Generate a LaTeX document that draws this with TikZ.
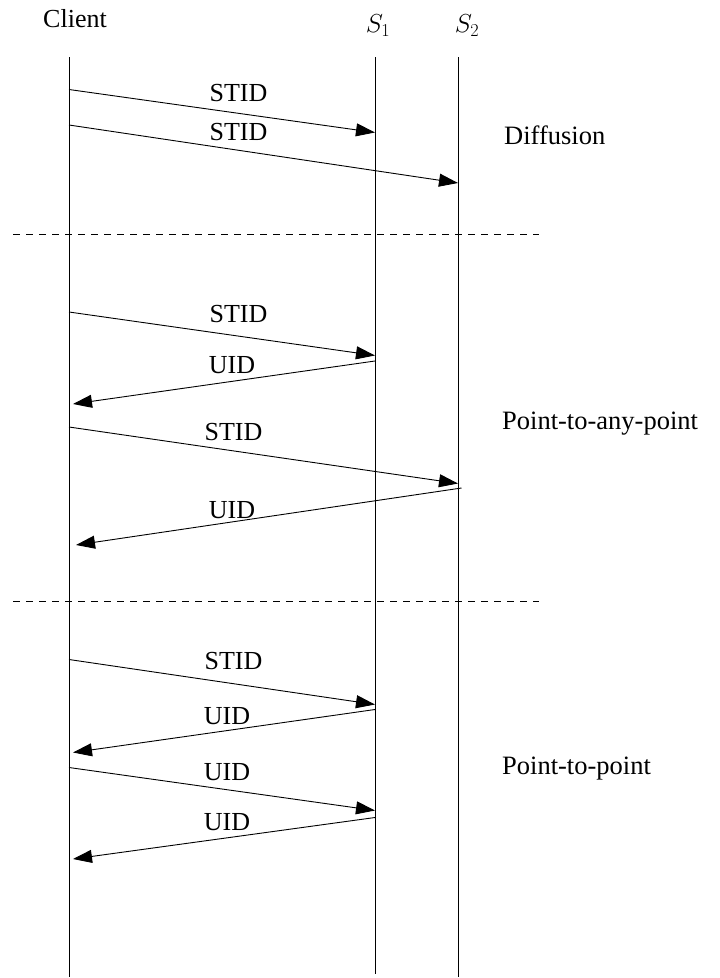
\RequirePackage{fix-cm}
\documentclass[tikz,border=0pt]{standalone}
\usepackage{fontspec}
\setmainfont{Liberation Serif}
\usetikzlibrary{arrows.meta}
\begin{document}
\begin{tikzpicture}[x=1pt,y=-1pt,
  lifeline/.style={line width=0.9pt},
  msg/.style={line width=0.9pt,-{Triangle[length=19pt,width=13pt]}},
  lbl/.style={font=\fontsize{26}{28}\selectfont,inner sep=0pt,anchor=base},
  sep/.style={line width=0.8pt,dash pattern=on 7pt off 6pt},
  mode/.style={font=\fontsize{26.5}{28}\selectfont,inner sep=0pt,anchor=base west}]
\useasboundingbox (0,0) rectangle (720,978);
% lifelines
\coordinate (ct) at (69,57);  \coordinate (cb) at (69,977);
\coordinate (s1t) at (375,57); \coordinate (s1b) at (375,974);
\coordinate (s2t) at (458,57); \coordinate (s2b) at (458,977);
\draw[lifeline] (ct) -- (cb);
\draw[lifeline] (s1t) -- (s1b);
\draw[lifeline] (s2t) -- (s2b);
\node[lbl] (client) at (75,27.5) {Client};
\node[lbl,anchor=center] (s1) at (378,26) {$S_1$};
\node[lbl,anchor=center] (s2) at (467,26) {$S_2$};
% separators
\coordinate (d1a) at (13,234); \coordinate (d1b) at (539,234);
\coordinate (d2a) at (13,601); \coordinate (d2b) at (539,601);
\draw[sep] (d1a) -- (d1b);
\draw[sep] (d2a) -- (d2b);
% Diffusion
\coordinate (a1s) at (69,89.5);  \coordinate (a1e) at (375,132.5);
\coordinate (a2s) at (69,125); \coordinate (a2e) at (458,183);
\draw[msg] (a1s) -- (a1e);
\draw[msg] (a2s) -- (a2e);
\node[lbl] (l1) at (238.5,101.5) {STID};
\node[lbl] (l2) at (238.5,140.5) {STID};
\node[mode] (m1) at (504,144) {Diffusion};
% Point-to-any-point
\coordinate (b1s) at (69,312);  \coordinate (b1e) at (375,355.5);
\coordinate (b2s) at (375,361); \coordinate (b2e) at (73,404);
\coordinate (b3s) at (69,427);  \coordinate (b3e) at (458,483.5);
\coordinate (b4s) at (461.5,488); \coordinate (b4e) at (76,545);
\draw[msg] (b1s) -- (b1e);
\draw[msg] (b2s) -- (b2e);
\draw[msg] (b3s) -- (b3e);
\draw[msg] (b4s) -- (b4e);
\node[lbl] (l3) at (238.5,322.5) {STID};
\node[lbl] (l4) at (232,373) {UID};
\node[lbl] (l5) at (233.5,440.5) {STID};
\node[lbl] (l6) at (232,518) {UID};
\node[mode] (m2) at (502,429.5) {Point-to-any-point};
% Point-to-point
\coordinate (c1s) at (69,659.5);  \coordinate (c1e) at (375,704.5);
\coordinate (c2s) at (375,709.5); \coordinate (c2e) at (73,752.5);
\coordinate (c3s) at (69,767.5);  \coordinate (c3e) at (375,810.5);
\coordinate (c4s) at (375,817.5); \coordinate (c4e) at (73,859);
\draw[msg] (c1s) -- (c1e);
\draw[msg] (c2s) -- (c2e);
\draw[msg] (c3s) -- (c3e);
\draw[msg] (c4s) -- (c4e);
\node[lbl] (l7) at (233.5,669) {STID};
\node[lbl] (l8) at (227,724) {UID};
\node[lbl] (l9) at (227,780) {UID};
\node[lbl] (l10) at (227,830) {UID};
\node[mode] (m3) at (502,774.5) {Point-to-point};
\end{tikzpicture}
\end{document}
